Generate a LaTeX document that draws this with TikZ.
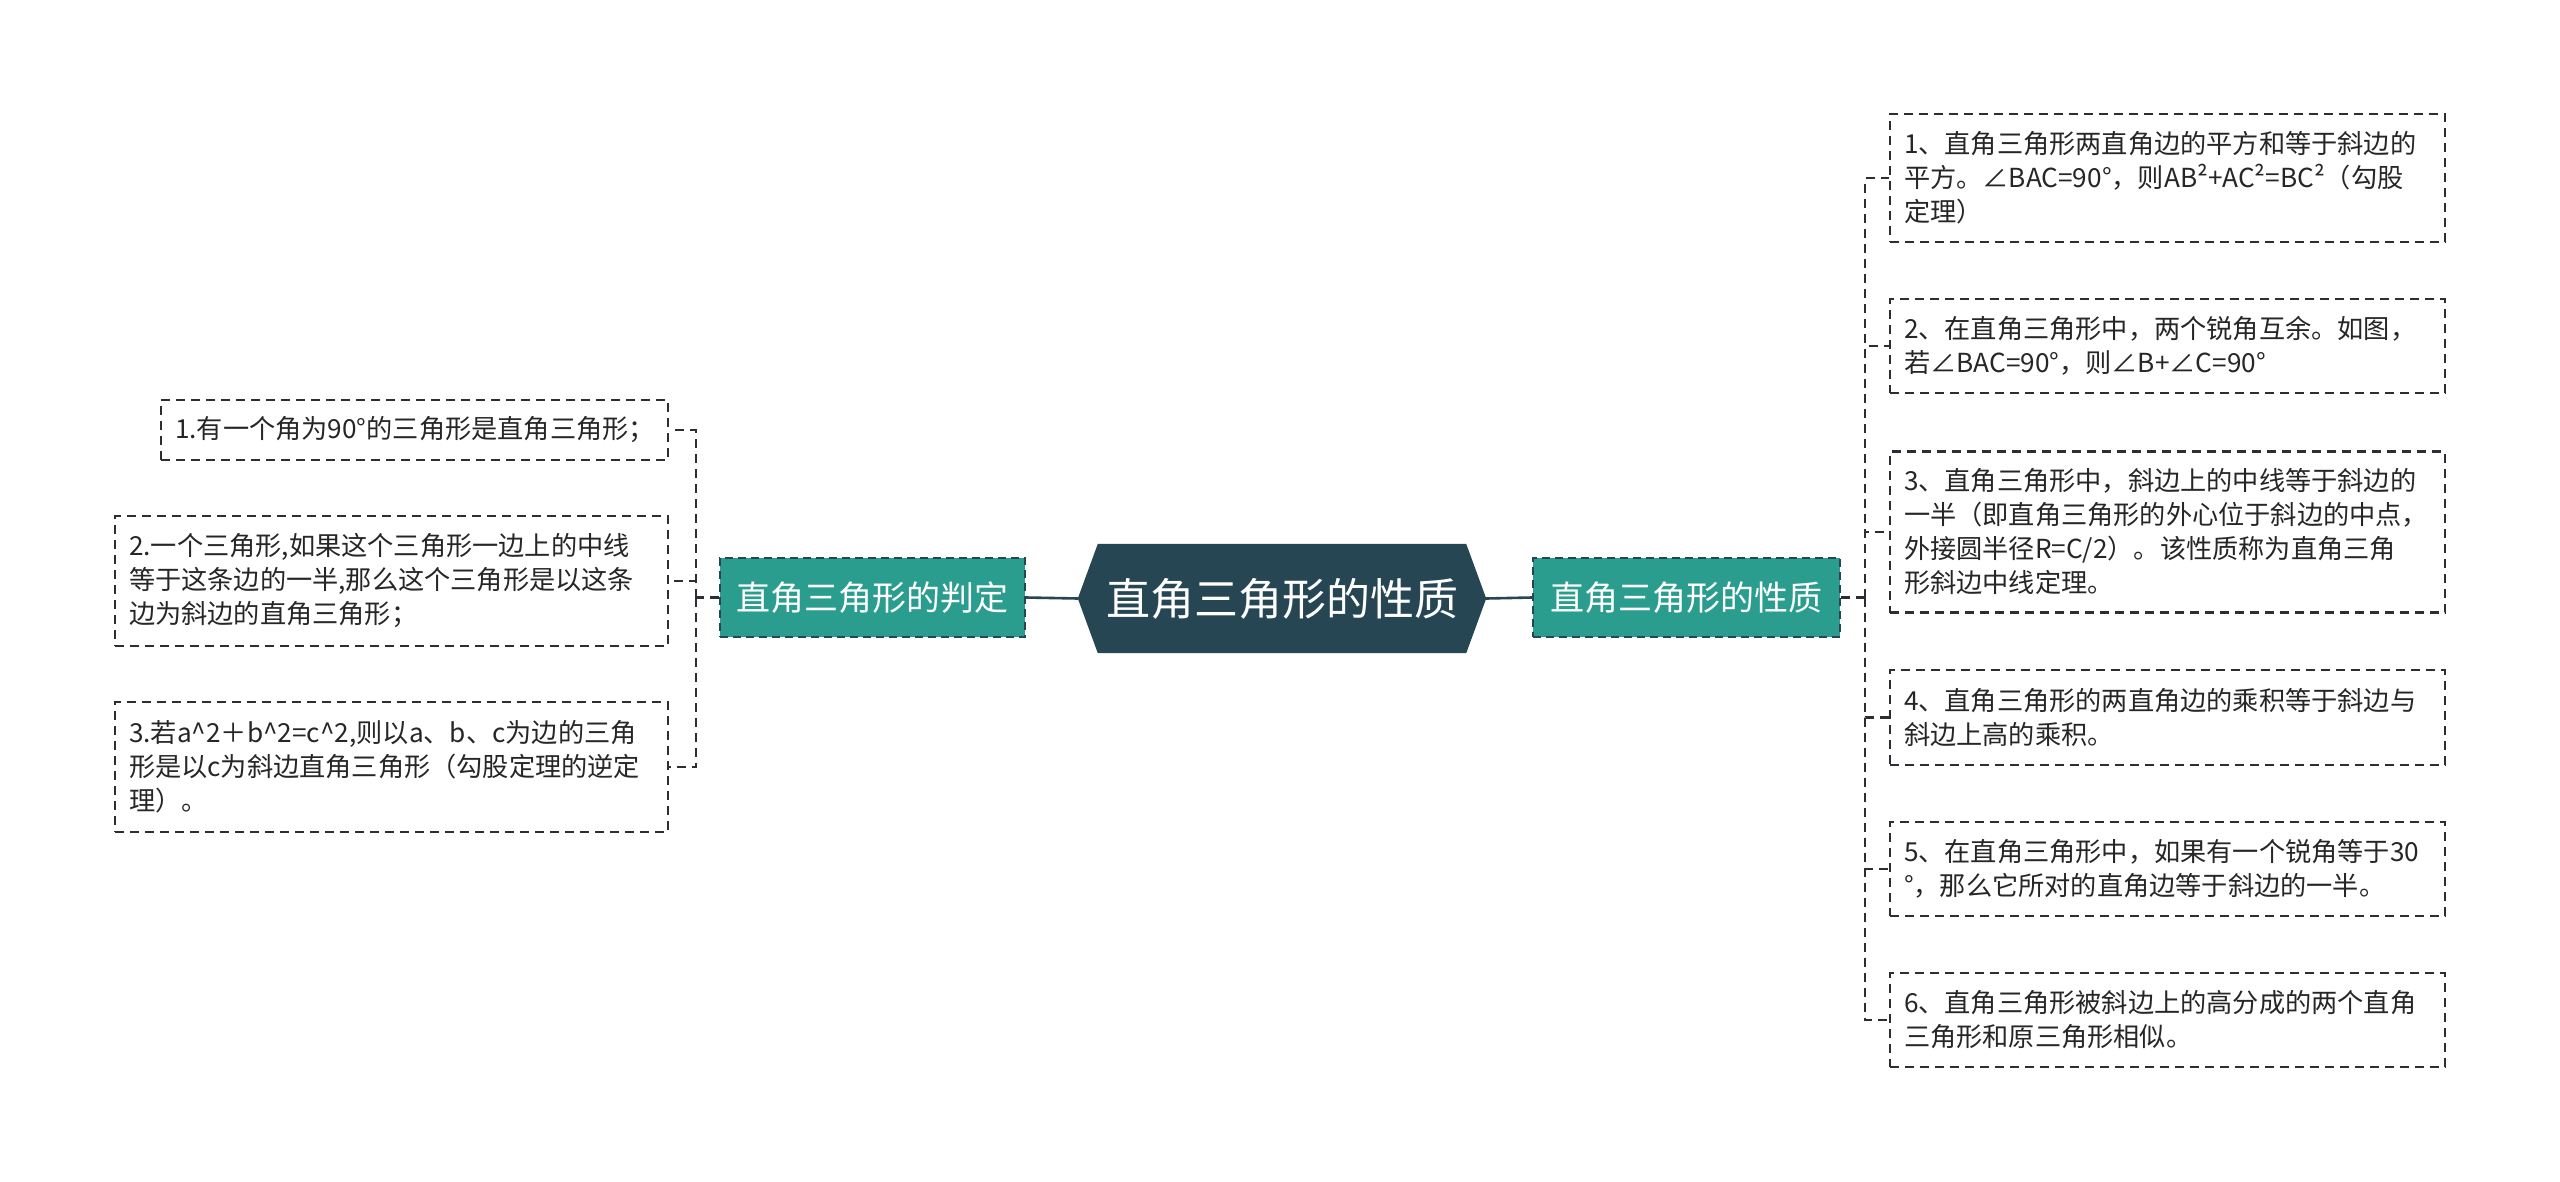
\documentclass[tikz,border=0pt]{standalone}
\usepackage{fontspec}
\setmainfont{Noto Sans CJK SC}
\usetikzlibrary{backgrounds}
\definecolor{hexc}{HTML}{264653}
\definecolor{brc}{HTML}{2A9D8F}
\definecolor{leafc}{HTML}{2B2F33}
\definecolor{txtc}{HTML}{262626}
\begin{document}
\begin{tikzpicture}[x=1pt,y=-1pt,
  leafbox/.style={draw=leafc, line width=2.2pt, dash pattern=on 9pt off 6pt, fill=white, text=txtc, align=left, inner xsep=14pt, inner ysep=0pt, font=\fontsize{26.2pt}{34pt}\selectfont},
  branchbox/.style={draw=hexc, line width=2.2pt, dash pattern=on 8pt off 5pt, fill=brc, text=white, font=\fontsize{34pt}{40pt}\selectfont, minimum width=305pt, minimum height=79pt, inner sep=0pt},
  solidlink/.style={draw=hexc, line width=2.6pt},
  leaflink/.style={draw=leafc, line width=2.2pt, dash pattern=on 9pt off 6pt}
]
\useasboundingbox (0,0) rectangle (2560,1181);

% central node
\node[minimum width=408pt, minimum height=109pt, inner sep=0pt, text=white, font=\fontsize{44pt}{50pt}\selectfont] (c) at (1282,598.5) {直角三角形的性质};
\begin{pgfonlayer}{background}
\fill[white] (0,0) rectangle (2560,1181);
\fill[hexc] (c.west) -- ([xshift=20pt]c.north west) -- ([xshift=-20pt]c.north east) -- (c.east) -- ([xshift=-20pt]c.south east) -- ([xshift=20pt]c.south west) -- cycle;
\end{pgfonlayer}

% branches
\node[branchbox] (Lb) at (872.5,597.5) {直角三角形的判定};
\node[branchbox, minimum width=307pt] (Rb) at (1686.5,597.5) {直角三角形的性质};

% left leaves
\node[leafbox, text width=479pt, minimum height=60pt] (L1) at (414.5,430) {1.有一个角为90°的三角形是直角三角形；};
\node[leafbox, text width=525pt, minimum height=130pt] (L2) at (391.5,581) {2.一个三角形,如果这个三角形一边上的中线\\等于这条边的一半,那么这个三角形是以这条\\边为斜边的直角三角形；};
\node[leafbox, text width=525pt, minimum height=130pt] (L3) at (391.5,767) {3.若a\^{}2＋b\^{}2=c\^{}2,则以a、b、c为边的三角\\形是以c为斜边直角三角形（勾股定理的逆定\\理）。};

% right leaves
\node[leafbox, text width=527pt, minimum height=128pt] (R1) at (2167.5,178) {1、直角三角形两直角边的平方和等于斜边的\\平方。∠BAC=90°，则AB²+AC²=BC²（勾股\\定理）};
\node[leafbox, text width=527pt, minimum height=94pt] (R2) at (2167.5,346) {2、在直角三角形中，两个锐角互余。如图，\\若∠BAC=90°，则∠B+∠C=90°};
\node[leafbox, text width=527pt, minimum height=161pt] (R3) at (2167.5,532) {3、直角三角形中，斜边上的中线等于斜边的\\一半（即直角三角形的外心位于斜边的中点，\\外接圆半径R=C/2）。该性质称为直角三角\\形斜边中线定理。};
\node[leafbox, text width=527pt, minimum height=95pt] (R4) at (2167.5,717.5) {4、直角三角形的两直角边的乘积等于斜边与\\斜边上高的乘积。};
\node[leafbox, text width=527pt, minimum height=94pt] (R5) at (2167.5,869) {5、在直角三角形中，如果有一个锐角等于30\\°，那么它所对的直角边等于斜边的一半。};
\node[leafbox, text width=527pt, minimum height=94pt] (R6) at (2167.5,1020) {6、直角三角形被斜边上的高分成的两个直角\\三角形和原三角形相似。};

% connectors
\draw[solidlink] (c.west) -- (Lb.east);
\draw[solidlink] (c.east) -- (Rb.west);

\coordinate (lj) at (696,597.5);
\draw[leaflink] (Lb.west) -- (lj);
\draw[leaflink] (lj) |- (L1.east);
\draw[leaflink] (lj) |- (L2.east);
\draw[leaflink] (lj) |- (L3.east);

\coordinate (rj) at (1865,597.5);
\draw[leaflink] (Rb.east) -- (rj);
\draw[leaflink] (rj) |- (R1.west);
\draw[leaflink] (rj) |- (R2.west);
\draw[leaflink] (rj) |- (R3.west);
\draw[leaflink] (rj) |- (R4.west);
\draw[leaflink] (rj) |- (R5.west);
\draw[leaflink] (rj) |- (R6.west);
\end{tikzpicture}
\end{document}
